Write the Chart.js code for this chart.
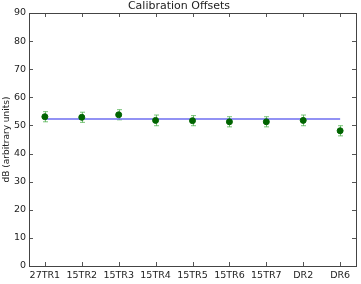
<!DOCTYPE html>
<html>
<head>
  <script src="https://cdn.jsdelivr.net/npm/chart.js@4/dist/chart.umd.min.js"></script>
  <style>body{margin:0;background:#fff}</style>
</head>
<body>
<canvas id="cal" width="361" height="284"></canvas>
<script>
  var labels = ["27TR1", "15TR2", "15TR3", "15TR4", "15TR5", "15TR6", "15TR7", "DR2", "DR6"];
  var offsets = [53.1, 52.9, 53.8, 51.8, 51.7, 51.3, 51.3, 51.8, 48.1];
  var errors = [1.8, 1.8, 1.8, 1.9, 1.8, 1.8, 1.8, 1.9, 1.8];
  var lineLevel = 52.3;
  var yTicks = [0, 10, 20, 30, 40, 50, 60, 70, 80, 90];

  var pts = offsets.map(function (v, i) { return {x: i, y: v}; });

  // error bars + inward ticks like the original plot
  var extras = {
    id: 'extras',
    beforeDatasetsDraw: function (chart) {
      var ctx = chart.ctx, xs = chart.scales.x, ys = chart.scales.y;
      ctx.save();
      ctx.strokeStyle = 'rgba(60,170,60,0.7)';
      ctx.lineWidth = 1;
      offsets.forEach(function (v, i) {
        var px = Math.round(xs.getPixelForValue(i)) + 0.5;
        var top = ys.getPixelForValue(v + errors[i]);
        var bot = ys.getPixelForValue(v - errors[i]);
        ctx.beginPath();
        ctx.moveTo(px, top); ctx.lineTo(px, bot);
        ctx.moveTo(px - 2.5, top); ctx.lineTo(px + 2.5, top);
        ctx.moveTo(px - 2.5, bot); ctx.lineTo(px + 2.5, bot);
        ctx.stroke();
      });
      ctx.restore();
    },
    afterDraw: function (chart) {
      var ctx = chart.ctx, a = chart.chartArea, xs = chart.scales.x, ys = chart.scales.y;
      ctx.save();
      ctx.strokeStyle = '#555';
      ctx.lineWidth = 1;
      ctx.beginPath();
      labels.forEach(function (l, i) {
        var px = Math.round(xs.getPixelForValue(i)) + 0.5;
        ctx.moveTo(px, a.bottom); ctx.lineTo(px, a.bottom - 4);
        ctx.moveTo(px, a.top); ctx.lineTo(px, a.top + 4);
      });
      yTicks.forEach(function (t) {
        var py = Math.round(ys.getPixelForValue(t)) + 0.5;
        ctx.moveTo(a.left, py); ctx.lineTo(a.left + 4, py);
        ctx.moveTo(a.right, py); ctx.lineTo(a.right - 4, py);
      });
      ctx.stroke();
      ctx.strokeStyle = '#444';
      ctx.strokeRect(Math.round(a.left) + 0.5, Math.round(a.top) + 0.5,
        Math.round(a.right - a.left), Math.round(a.bottom - a.top));
      ctx.restore();
    }
  };

  Chart.defaults.font.family = 'DejaVu Sans';
  Chart.defaults.color = '#222';

  new Chart(document.getElementById('cal'), {
    type: 'scatter',
    data: {
      datasets: [{
        data: pts,
        backgroundColor: '#006400',
        borderColor: '#006400',
        pointRadius: 3,
        order: 1
      }, {
        type: 'line',
        data: [{x: 0, y: lineLevel}, {x: labels.length - 1, y: lineLevel}],
        borderColor: 'rgba(110,110,240,0.75)',
        borderWidth: 2,
        pointRadius: 0,
        order: 2
      }]
    },
    options: {
      responsive: false,
      animation: false,
      layout: {padding: {left: 0, right: 3, top: 0, bottom: 0}},
      plugins: {
        legend: {display: false},
        tooltip: {enabled: false},
        title: {
          display: true,
          text: 'Calibration Offsets',
          color: '#222',
          font: {size: 11, weight: 'normal', lineHeight: 1},
          padding: {top: 1, bottom: 1}
        }
      },
      scales: {
        x: {
          type: 'linear',
          min: -0.43,
          max: labels.length - 1 + 0.43,
          afterBuildTicks: function (s) {
            s.ticks = labels.map(function (l, i) { return {value: i}; });
          },
          afterFit: function (s) { s.height = 18; },
          grid: {display: false, drawTicks: false},
          border: {display: false},
          ticks: {
            font: {size: 9.5},
            padding: 4,
            maxRotation: 0,
            autoSkip: false,
            callback: function (v) { return labels[v]; }
          }
        },
        y: {
          min: 0,
          max: 90,
          afterBuildTicks: function (s) {
            s.ticks = yTicks.map(function (t) { return {value: t}; });
          },
          afterFit: function (s) { s.width = 29; },
          grid: {display: false, drawTicks: false},
          border: {display: false},
          title: {display: true, text: 'dB (arbitrary units)', font: {size: 9}, padding: {top: 1, bottom: 0}},
          ticks: {font: {size: 9.5}, padding: 3}
        }
      }
    },
    plugins: [extras]
  });
</script>
</body>
</html>
